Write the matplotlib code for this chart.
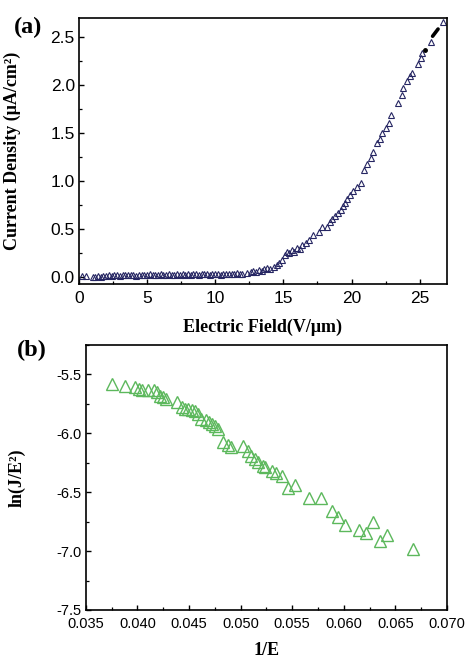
import matplotlib.pyplot as plt
from matplotlib.ticker import MultipleLocator

# ---- panel (a): J-E curve ----
e_field = [0.2, 0.5,
           1.0, 1.2, 1.4, 1.6, 1.8, 2.0, 2.2, 2.4, 2.6, 2.8, 3.0, 3.2, 3.4, 3.6, 3.8,
           4.0, 4.2, 4.4, 4.6, 4.8, 5.0, 5.2, 5.4, 5.6, 5.8, 6.0, 6.2, 6.4, 6.6, 6.8,
           7.0, 7.2, 7.4, 7.6, 7.8, 8.0, 8.2, 8.4, 8.6, 8.8, 9.0, 9.2, 9.4, 9.6, 9.8,
           10.0, 10.2, 10.4, 10.6, 10.8, 11.0, 11.2, 11.4, 11.6, 11.8, 12.0,
           12.3, 12.6, 12.8, 13.0, 13.2, 13.4, 13.6, 13.8, 14.0, 14.3, 14.5, 14.7,
           14.9, 15.15, 15.3, 15.45, 15.6, 15.8, 16.0, 16.2, 16.4, 16.65, 16.9, 17.2,
           17.6, 17.85, 18.2, 18.45, 18.6, 18.8, 19.0, 19.2, 19.4, 19.55, 19.7, 19.9,
           20.1, 20.4, 20.66, 20.9, 21.15, 21.4, 21.6, 21.9, 22.08, 22.26, 22.5,
           22.75, 22.9, 23.4, 23.7, 23.8, 24.04, 24.3, 24.46, 24.9, 25.07, 25.2,
           25.8, 26.7]
current = [0.01, 0.01,
           0.0, 0.0, 0.01, 0.0, 0.01, 0.01, 0.02, 0.01, 0.02, 0.02, 0.01, 0.02, 0.02, 0.02, 0.02,
           0.02, 0.01, 0.02, 0.02, 0.02, 0.02, 0.03, 0.02, 0.02, 0.02, 0.03, 0.02, 0.02, 0.03, 0.02,
           0.02, 0.03, 0.02, 0.03, 0.02, 0.03, 0.02, 0.03, 0.03, 0.02, 0.03, 0.03, 0.03, 0.02, 0.03,
           0.03, 0.03, 0.02, 0.03, 0.03, 0.03, 0.03, 0.03, 0.04, 0.03, 0.03,
           0.04, 0.05, 0.06, 0.05, 0.07, 0.06, 0.08, 0.09, 0.08, 0.10, 0.12, 0.14,
           0.17, 0.23, 0.26, 0.25, 0.28, 0.26, 0.30, 0.29, 0.33, 0.35, 0.38, 0.43,
           0.47, 0.52, 0.52, 0.57, 0.60, 0.63, 0.66, 0.70, 0.74, 0.77, 0.81, 0.85,
           0.89, 0.94, 0.98, 1.11, 1.18, 1.24, 1.30, 1.39, 1.44, 1.50, 1.55,
           1.60, 1.69, 1.81, 1.90, 1.97, 2.04, 2.09, 2.13, 2.22, 2.28, 2.33,
           2.45, 2.656]
# densely overlapping points near the top end
dense_e = [25.4, 25.95, 26.35]
dense_j = [2.37, 2.51, 2.585]

# ---- panel (b): F-N plot ----
inv_e = [0.0375, 0.0388, 0.0398, 0.0401, 0.0404, 0.0410, 0.0416, 0.0419, 0.0422,
         0.0425, 0.0428, 0.0438, 0.0443, 0.0446, 0.0449, 0.0453, 0.0456, 0.0459,
         0.0462, 0.0466, 0.0469, 0.0472, 0.0475, 0.0478, 0.0483, 0.0488, 0.0491,
         0.0502, 0.0507, 0.0510, 0.0514, 0.0517, 0.0522, 0.0524, 0.0530, 0.0534,
         0.0540, 0.0546, 0.0553, 0.0566, 0.0578, 0.0589, 0.0594, 0.0601, 0.0615,
         0.0622, 0.0628, 0.0635, 0.0642, 0.0667]
ln_je2 = [-5.585, -5.60, -5.605, -5.62, -5.63, -5.63, -5.63, -5.65, -5.68,
          -5.69, -5.71, -5.735, -5.775, -5.79, -5.795, -5.80, -5.81, -5.84,
          -5.88, -5.89, -5.905, -5.925, -5.94, -5.96, -6.07, -6.095, -6.115,
          -6.11, -6.15, -6.19, -6.22, -6.24, -6.275, -6.29, -6.32, -6.34,
          -6.36, -6.465, -6.435, -6.55, -6.55, -6.66, -6.71, -6.78, -6.825,
          -6.85, -6.755, -6.915, -6.86, -6.985]

plt.rcParams['font.family'] = ['Liberation Sans', 'DejaVu Sans']
plt.rcParams['font.size'] = 10.5
serif = ['Liberation Serif', 'DejaVu Serif']
label_font = dict(family=serif, weight='bold', size=13)


def style_axes(ax, tick_size):
    for sp in ax.spines.values():
        sp.set_linewidth(1.2)
    ax.tick_params(which='both', direction='in', top=False, right=False,
                   labelsize=tick_size)
    ax.tick_params(which='major', length=3.5, width=1.0, pad=5)
    ax.tick_params(which='minor', length=2.0, width=0.9)
    ax.tick_params(axis='y', which='major', pad=3)


fig = plt.figure(figsize=(4.67, 6.58), dpi=100)

ax1 = fig.add_axes([0.169, 0.568, 0.788, 0.4046])
ax1.plot(e_field, current, linestyle='none', marker='^', markersize=4.2,
         markerfacecolor='none', markeredgecolor='#262663', markeredgewidth=0.8)
ax1.plot(dense_e[1:], dense_j[1:], color='black', linewidth=2.6, solid_capstyle='round')
ax1.plot(dense_e[:1], dense_j[:1], linestyle='none', marker='o', markersize=2.5, color='black')
ax1.set_xlim(0, 27)
ax1.set_ylim(-0.08, 2.7)
ax1.xaxis.set_major_locator(MultipleLocator(5))
ax1.xaxis.set_minor_locator(MultipleLocator(2.5))
ax1.yaxis.set_major_locator(MultipleLocator(0.5))
ax1.yaxis.set_minor_locator(MultipleLocator(0.25))
style_axes(ax1, 12.5)
ax1.set_xlabel('Electric Field(V/μm)', labelpad=9, **label_font)
ax1.set_ylabel('Current Density (μA/cm²)', **label_font)
ax1.yaxis.set_label_coords(-0.158, 0.5)
fig.text(0.03, 0.958, '(a)', family=serif, weight='bold', size=17.5, va='center')

ax2 = fig.add_axes([0.184, 0.073, 0.773, 0.4027])
ax2.plot(inv_e, ln_je2, linestyle='none', marker='^', markersize=8,
         markerfacecolor='none', markeredgecolor='#5cb85c', markeredgewidth=1.0)
ax2.set_xlim(0.035, 0.070)
ax2.set_ylim(-7.5, -5.25)
ax2.xaxis.set_major_locator(MultipleLocator(0.005))
ax2.xaxis.set_minor_locator(MultipleLocator(0.0025))
ax2.yaxis.set_major_locator(MultipleLocator(0.5))
ax2.yaxis.set_minor_locator(MultipleLocator(0.25))
ax2.xaxis.set_major_formatter(plt.FormatStrFormatter('%.3f'))
ax2.yaxis.set_major_formatter(plt.FormatStrFormatter('%.1f'))
style_axes(ax2, 10.5)
ax2.set_xlabel('1/E', labelpad=8, **label_font)
ax2.set_ylabel('ln(J/E²)', **label_font)
ax2.yaxis.set_label_coords(-0.166, 0.5)
fig.text(0.037, 0.468, '(b)', family=serif, weight='bold', size=17.5, va='center')

fig.savefig('out.png', dpi=100)
